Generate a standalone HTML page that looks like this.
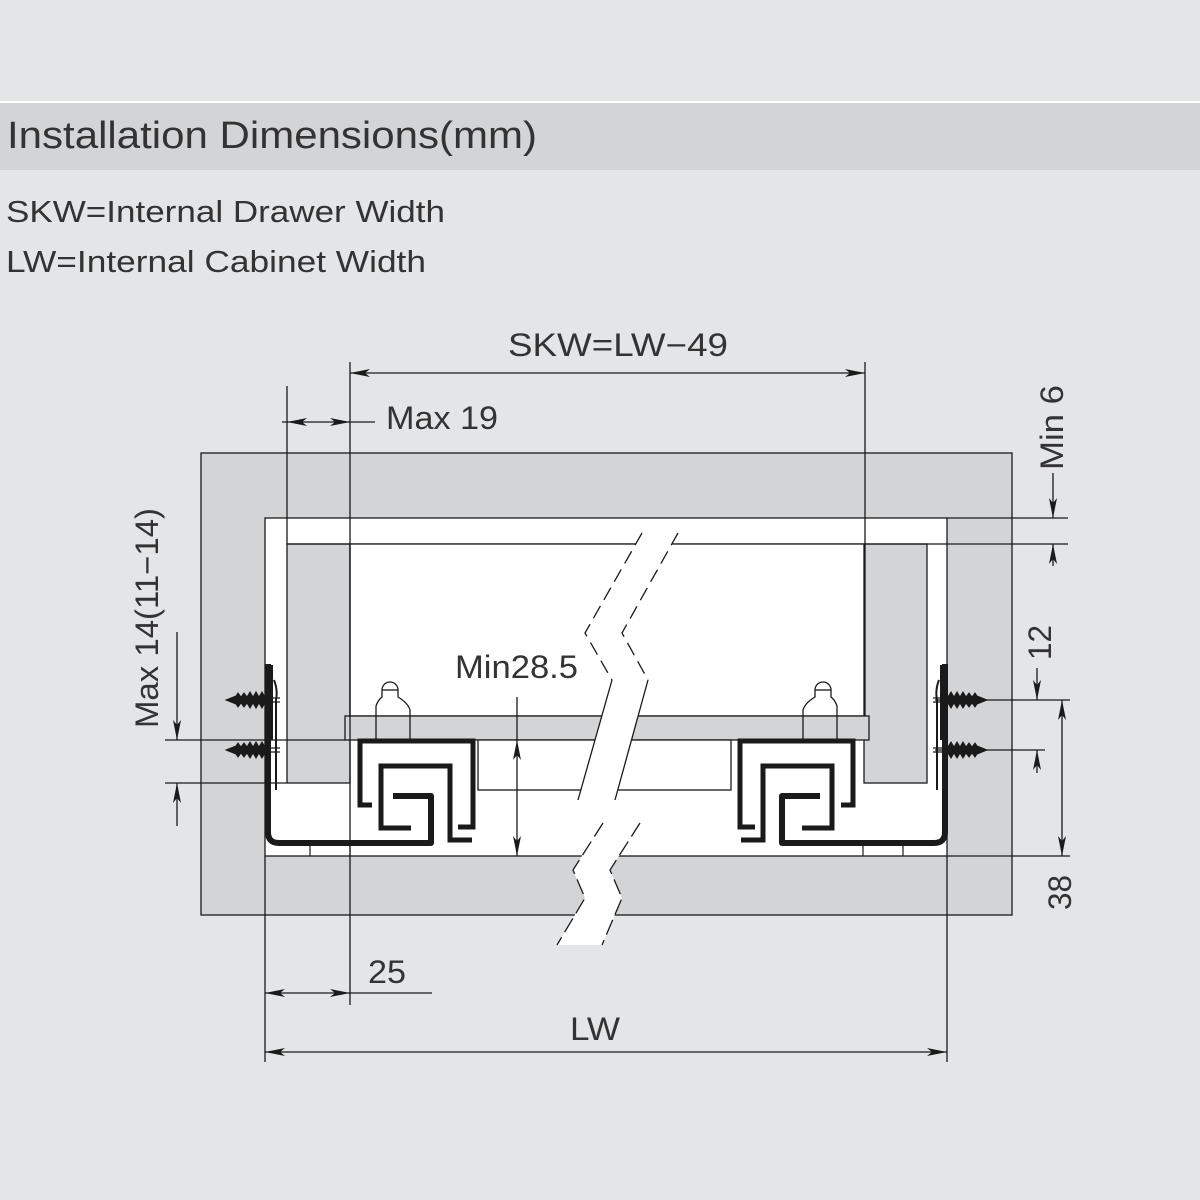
<!DOCTYPE html>
<html><head><meta charset="utf-8"><style>
html,body{margin:0;padding:0;background:#e4e5e7;}
svg{display:block;}
</style></head><body>
<svg width="1200" height="1200" viewBox="0 0 1200 1200" xmlns="http://www.w3.org/2000/svg" font-family="Liberation Sans, Arial, sans-serif">
<defs>
<marker id="a" viewBox="0 0 20 8" refX="20" refY="4" markerWidth="20" markerHeight="8" markerUnits="userSpaceOnUse" orient="auto-start-reverse"><path d="M0,0 L20,4 L0,8 L5,4 Z" fill="#1a1a1a"/></marker>
<g id="screw">
<path d="M226,700 L236,696 L238,693 L241,697 L244,693 L247,697 L250,692 L253,697 L256,692 L259,697 L262,692 L265,697 L268,693 L270,697 L270,703 L268,707 L265,703 L262,708 L259,703 L256,708 L253,703 L250,708 L247,703 L244,707 L241,703 L238,707 L236,704 Z" fill="#1a1a1a"/>
<path d="M270,698 H280 M270,702 H280" stroke="#1a1a1a" stroke-width="1.2"/>
</g>
<g id="side" fill="none" stroke="#1a1a1a">
<path d="M268,664 V832 Q268,843 279,843 H431 V796 H393" stroke-width="6" stroke-linejoin="round"/>
<path d="M272,665 V740 M274,680 Q278,690 276,700 V790" stroke-width="2"/>
<path d="M372,805 H360 V741 H473 V827 H458" stroke-width="5"/>
<path d="M472,840 H450 V766 H381 V828 H411" stroke-width="5"/>
<use href="#screw"/>
<use href="#screw" y="50"/>
<path d="M376,716 V706 Q378,700 382,697 V690 A8,8 0 1 1 398,690 V697 Q408,703 410,710 V740 M376,740 V716" stroke-width="1.3" fill="none"/>
<path d="M382,690 H398" stroke-width="1.3"/>
<path d="M310,843 V856 M350,843 V856" stroke-width="1.2"/>
</g>
</defs>

<rect x="0" y="101" width="1200" height="2" fill="#ffffff"/>
<rect x="0" y="103" width="1200" height="67" fill="#d3d4d6"/>
<text x="7" y="148" font-size="38" fill="#333" textLength="530" lengthAdjust="spacingAndGlyphs">Installation Dimensions(mm)</text>
<text x="6" y="222" font-size="31" fill="#333" textLength="439" lengthAdjust="spacingAndGlyphs">SKW=Internal Drawer Width</text>
<text x="6" y="272" font-size="31" fill="#333" textLength="420" lengthAdjust="spacingAndGlyphs">LW=Internal Cabinet Width</text>

<g stroke="#1a1a1a" stroke-width="1.3">
<rect x="201" y="453" width="811" height="462" fill="#d3d4d6"/>
<rect x="265" y="518" width="682" height="338" fill="#ffffff"/>
<rect x="287" y="544" width="63" height="239" fill="#d3d4d6"/>
<rect x="864" y="544" width="63" height="239" fill="#d3d4d6"/>
<line x1="287" y1="544" x2="927" y2="544"/>
<rect x="350" y="544" width="514" height="172" fill="#fff"/>
<rect x="345" y="716" width="524" height="24" fill="#d3d4d6"/>
<rect x="478" y="740" width="253" height="50" fill="#fff"/>
</g>

<use href="#side"/>
<use href="#side" transform="translate(1213,0) scale(-1,1)"/>

<polygon points="642,533 585,633 612,680 578,800 603,823 573,870 585,898 557,945 602,945 622,898 610,870 640,823 615,800 648,680 622,633 678,533" fill="#fff"/>
<g stroke="#1a1a1a" stroke-width="1.3" fill="none">
<path d="M642,533 L585,633 L612,680" stroke-dasharray="14,7"/>
<path d="M678,533 L622,633 L648,680" stroke-dasharray="14,7"/>
<path d="M612,680 L578,800 M648,680 L615,800"/>
<path d="M603,823 L573,870 L585,898 L557,945" stroke-dasharray="16,6"/>
<path d="M640,823 L610,870 L622,898 L602,945" stroke-dasharray="16,6"/>
</g>

<g stroke="#1a1a1a" stroke-width="1.3" fill="none">
<line x1="350" y1="362" x2="350" y2="1005"/>
<line x1="865" y1="362" x2="865" y2="716"/>
<line x1="350" y1="373" x2="865" y2="373" marker-start="url(#a)" marker-end="url(#a)"/>
<line x1="287" y1="386" x2="287" y2="544"/>
<line x1="282" y1="422" x2="287" y2="422"/>
<line x1="287" y1="422" x2="350" y2="422" marker-start="url(#a)" marker-end="url(#a)"/>
<line x1="350" y1="422" x2="375" y2="422"/>
<line x1="947" y1="518" x2="1068" y2="518"/>
<line x1="927" y1="544" x2="1068" y2="544"/>
<line x1="1053" y1="473" x2="1053" y2="518" marker-end="url(#a)"/>
<line x1="1053" y1="566" x2="1053" y2="544" marker-end="url(#a)"/>
<line x1="935" y1="700" x2="1070" y2="700"/>
<line x1="935" y1="750" x2="1045" y2="750"/>
<line x1="947" y1="856" x2="1070" y2="856"/>
<line x1="1037" y1="668" x2="1037" y2="700" marker-end="url(#a)"/>
<line x1="1037" y1="773" x2="1037" y2="750" marker-end="url(#a)"/>
<line x1="1062" y1="700" x2="1062" y2="856" marker-start="url(#a)" marker-end="url(#a)"/>
<line x1="165" y1="740" x2="345" y2="740"/>
<line x1="165" y1="783" x2="287" y2="783"/>
<line x1="177" y1="632" x2="177" y2="740" marker-end="url(#a)"/>
<line x1="177" y1="826" x2="177" y2="783" marker-end="url(#a)"/>
<line x1="517" y1="697" x2="517" y2="740"/>
<line x1="517" y1="740" x2="517" y2="856" marker-start="url(#a)" marker-end="url(#a)"/>
<line x1="265" y1="856" x2="265" y2="1062"/>
<line x1="947" y1="856" x2="947" y2="1062"/>
<line x1="265" y1="993" x2="350" y2="993" marker-start="url(#a)" marker-end="url(#a)"/>
<line x1="350" y1="993" x2="432" y2="993"/>
<line x1="265" y1="1052" x2="947" y2="1052" marker-start="url(#a)" marker-end="url(#a)"/>
</g>

<g fill="#333" font-size="32" lengthAdjust="spacingAndGlyphs">
<text x="508" y="356" textLength="220" lengthAdjust="spacingAndGlyphs">SKW=LW−49</text>
<text x="386" y="429" textLength="112" lengthAdjust="spacingAndGlyphs">Max 19</text>
<text x="455" y="678" textLength="123" lengthAdjust="spacingAndGlyphs">Min28.5</text>
<text x="368" y="983" textLength="38" lengthAdjust="spacingAndGlyphs">25</text>
<text x="570" y="1040" textLength="50" lengthAdjust="spacingAndGlyphs">LW</text>
<text transform="translate(1063,470) rotate(-90)" textLength="85" lengthAdjust="spacingAndGlyphs">Min 6</text>
<text transform="translate(1051,660) rotate(-90)" textLength="35" lengthAdjust="spacingAndGlyphs">12</text>
<text transform="translate(1071,910) rotate(-90)" textLength="35" lengthAdjust="spacingAndGlyphs">38</text>
<text transform="translate(158,728) rotate(-90)" textLength="220" lengthAdjust="spacingAndGlyphs">Max 14(11−14)</text>
</g>
</svg>
</body></html>
